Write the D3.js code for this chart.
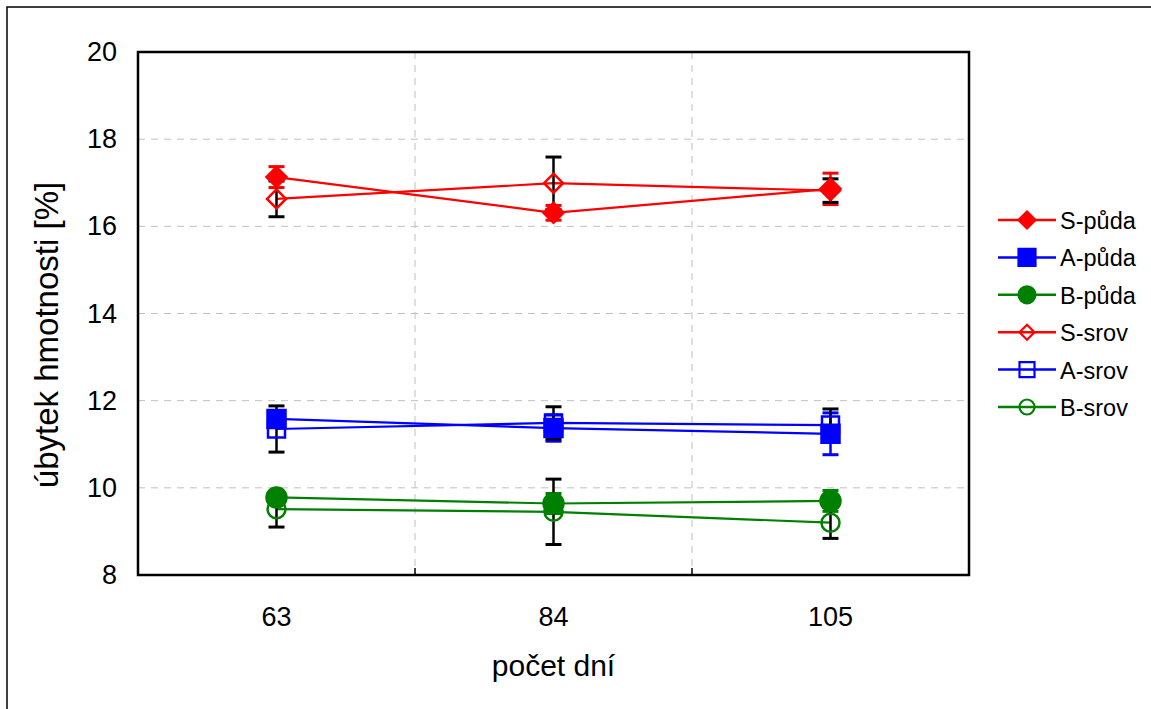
<!DOCTYPE html>
<html>
<head>
<meta charset="utf-8">
<script src="https://cdn.jsdelivr.net/npm/d3@7"></script>
<style>
  body { margin: 0; background: #fff; }
  svg { display: block; font-family: Arial, "Liberation Sans", sans-serif; }
</style>
</head>
<body>
<svg id="chart" width="1151" height="709"></svg>
<script>
// days on x axis
var days = ['63', '84', '105'];
var yTicks = [8, 10, 12, 14, 16, 18, 20];

// mean weight loss [%] and error (+/-) per series
var sPuda = [17.13, 16.31, 16.86];
var sPudaErr = [0.24, 0.17, 0.36];
var aPuda = [11.58, 11.37, 11.24];
var aPudaErr = [0.15, 0.3, 0.48];
var bPuda = [9.78, 9.64, 9.70];
var bPudaErr = [0.12, 0.23, 0.24];
var sSrov = [16.63, 16.99, 16.82];
var sSrovErr = [0.41, 0.6, 0.27];
var aSrov = [11.35, 11.49, 11.44];
var aSrovErr = [0.53, 0.37, 0.37];
var bSrov = [9.51, 9.45, 9.2];
var bSrovErr = [0.41, 0.75, 0.36];

var series = [
    { name: 'S-půda', values: sPuda, err: sPudaErr, color: '#ff0000', shape: 'diamond', filled: true },
    { name: 'A-půda', values: aPuda, err: aPudaErr, color: '#0000ff', shape: 'square', filled: true },
    { name: 'B-půda', values: bPuda, err: bPudaErr, color: '#008000', shape: 'circle', filled: true },
    { name: 'S-srov', values: sSrov, err: sSrovErr, color: '#ff0000', shape: 'diamond', filled: false },
    { name: 'A-srov', values: aSrov, err: aSrovErr, color: '#0000ff', shape: 'square', filled: false },
    { name: 'B-srov', values: bSrov, err: bSrovErr, color: '#008000', shape: 'circle', filled: false }
];

var svg = d3.select('#chart');
var margin = { left: 138, top: 52, right: 969, bottom: 575 };
var font = 'Arial, "Liberation Sans", sans-serif';

// outer frame (only left/top edges are visible in the picture)
svg.append('rect')
    .attr('x', 7).attr('y', 7)
    .attr('width', 1160).attr('height', 720)
    .attr('fill', 'none').attr('stroke', '#000').attr('stroke-width', 1.5);

var x = d3.scaleBand().domain(days).range([margin.left, margin.right]);
var y = d3.scaleLinear().domain([8, 20]).range([margin.bottom, margin.top]);
var cx = function (i) { return x(days[i]) + x.bandwidth() / 2; };

// grid
var grid = svg.append('g');
grid.selectAll('.hg')
    .data(yTicks.filter(function (d) { return d > 8 && d < 20; }))
    .enter().append('line')
    .attr('x1', margin.left).attr('x2', margin.right)
    .attr('y1', function (d) { return y(d); }).attr('y2', function (d) { return y(d); })
    .attr('stroke', '#c0c0c0').attr('stroke-dasharray', '7,6').attr('stroke-width', 1);
grid.selectAll('.vg')
    .data(days.slice(1))
    .enter().append('line')
    .attr('x1', function (d) { return x(d); }).attr('x2', function (d) { return x(d); })
    .attr('y1', margin.top).attr('y2', margin.bottom)
    .attr('stroke', '#c0c0c0').attr('stroke-dasharray', '7,6').attr('stroke-width', 1);

// axes
var yAxis = d3.axisLeft(y).tickValues(yTicks).tickSize(0).tickPadding(21);
var gy = svg.append('g').attr('transform', 'translate(' + margin.left + ',0)').call(yAxis);
gy.select('.domain').remove();
gy.selectAll('text').attr('font-size', 27).attr('fill', '#000').attr('font-family', font);

var xAxis = d3.axisBottom(x).tickSize(0).tickPadding(32);
var gx = svg.append('g').attr('transform', 'translate(0,' + margin.bottom + ')').call(xAxis);
gx.select('.domain').remove();
gx.selectAll('text').attr('font-size', 27).attr('fill', '#000').attr('font-family', font);
// small ticks on the band boundaries
svg.append('g').selectAll('line')
    .data(days.slice(1))
    .enter().append('line')
    .attr('x1', function (d) { return x(d); }).attr('x2', function (d) { return x(d); })
    .attr('y1', margin.bottom - 7).attr('y2', margin.bottom)
    .attr('stroke', '#000').attr('stroke-width', 1.5);

svg.append('rect')
    .attr('x', margin.left).attr('y', margin.top)
    .attr('width', margin.right - margin.left).attr('height', margin.bottom - margin.top)
    .attr('fill', 'none').attr('stroke', '#000').attr('stroke-width', 2.5);

// axis titles
svg.append('text')
    .attr('x', (margin.left + margin.right) / 2).attr('y', 676)
    .attr('text-anchor', 'middle').attr('font-size', 30)
    .text('počet dní');
svg.append('text')
    .attr('transform', 'translate(58,335) rotate(-90)')
    .attr('text-anchor', 'middle').attr('font-size', 33)
    .text('úbytek hmotnosti [%]');

// marker path centred on 0,0 with half-size r
var markerPath = function (shape, r) {
    if (shape === 'diamond') {
        return 'M0,' + (-r) + 'L' + r + ',0L0,' + r + 'L' + (-r) + ',0Z';
    }
    if (shape === 'square') {
        return 'M' + (-r) + ',' + (-r) + 'h' + (2 * r) + 'v' + (2 * r) + 'h' + (-2 * r) + 'Z';
    }
    return d3.arc()({ innerRadius: 0, outerRadius: r, startAngle: 0, endAngle: 2 * Math.PI });
};
var halfFor = function (s) {
    if (s.shape === 'diamond') return s.filled ? 10 : 9.5;
    if (s.shape === 'square') return s.filled ? 9 : 8.5;
    return s.filled ? 10 : 9;
};

var line = d3.line()
    .x(function (d, i) { return cx(i); })
    .y(function (d) { return y(d); });

var plot = svg.append('g');
series.forEach(function (s) {
    plot.append('path')
        .datum(s.values)
        .attr('d', line)
        .attr('fill', 'none')
        .attr('stroke', s.color)
        .attr('stroke-width', 2.2);
});

// error bars: coloured for "půda", black for "srov"
var cap = 8;
series.forEach(function (s) {
    var col = s.filled ? s.color : '#000';
    var g = plot.append('g');
    s.values.forEach(function (v, i) {
        var x0 = cx(i), lo = y(v - s.err[i]), hi = y(v + s.err[i]);
        g.append('line').attr('x1', x0).attr('x2', x0).attr('y1', lo).attr('y2', hi)
            .attr('stroke', col).attr('stroke-width', 2.5);
        [lo, hi].forEach(function (yy) {
            g.append('line').attr('x1', x0 - cap).attr('x2', x0 + cap).attr('y1', yy).attr('y2', yy)
                .attr('stroke', col).attr('stroke-width', 3);
        });
    });
});

series.forEach(function (s) {
    plot.append('g').selectAll('path')
        .data(s.values)
        .enter().append('path')
        .attr('transform', function (d, i) { return 'translate(' + cx(i) + ',' + y(d) + ')'; })
        .attr('d', markerPath(s.shape, halfFor(s)))
        .attr('fill', s.filled ? s.color : 'none')
        .attr('stroke', s.color)
        .attr('stroke-width', 2.5);
});

// legend
var legend = svg.append('g').attr('transform', 'translate(998,220)');
var item = legend.selectAll('g')
    .data(series)
    .enter().append('g')
    .attr('transform', function (d, i) { return 'translate(0,' + (i * 37.4) + ')'; });
item.append('line')
    .attr('x1', 0).attr('x2', 58).attr('y1', 0).attr('y2', 0)
    .attr('stroke', function (d) { return d.color; }).attr('stroke-width', 2.5);
item.append('path')
    .attr('transform', 'translate(29,0)')
    .attr('d', function (d) { return markerPath(d.shape, d.filled ? 8.5 : 7.5); })
    .attr('fill', function (d) { return d.filled ? d.color : 'none'; })
    .attr('stroke', function (d) { return d.color; })
    .attr('stroke-width', 2.2);
item.append('text')
    .attr('x', 62).attr('y', 9)
    .attr('font-size', 23.5)
    .text(function (d) { return d.name; });
</script>
</body>
</html>
